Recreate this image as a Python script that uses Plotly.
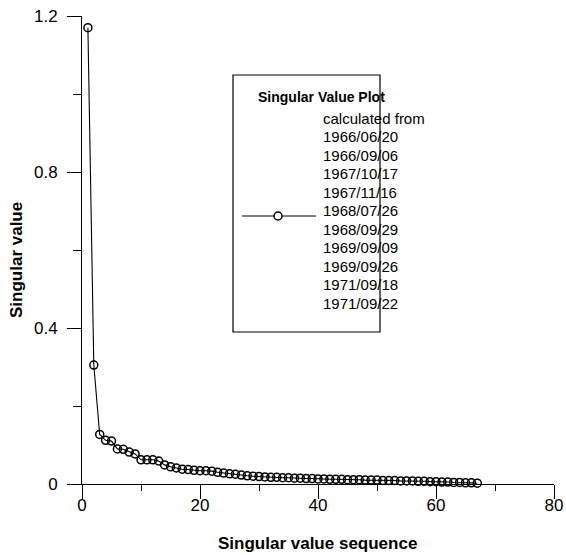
import plotly.graph_objects as go

# ---- data ----
sequence = list(range(1, 68))
singular_values = [
    1.170, 0.305, 0.127, 0.112, 0.110, 0.090, 0.089, 0.082, 0.077, 0.062,
    0.062, 0.062, 0.059, 0.049, 0.044, 0.041, 0.038, 0.037, 0.035, 0.034,
    0.034, 0.033, 0.030, 0.028, 0.026, 0.025, 0.023, 0.021, 0.020, 0.019,
    0.018, 0.017, 0.017, 0.016, 0.016, 0.015, 0.015, 0.014, 0.014, 0.013,
    0.013, 0.012, 0.012, 0.012, 0.011, 0.011, 0.011, 0.010, 0.010, 0.010,
    0.009, 0.009, 0.009, 0.008, 0.008, 0.008, 0.007, 0.007, 0.006, 0.006,
    0.005, 0.005, 0.004, 0.004, 0.003, 0.003, 0.002,
]
x_ticks = [0, 20, 40, 60, 80]
y_ticks = [0, 0.4, 0.8, 1.2]
y_tick_labels = ["0", "0.4", "0.8", "1.2"]
x_title = "Singular value sequence"
y_title = "Singular value"
legend_title = "Singular Value Plot"
legend_lines = [
    "calculated from", "1966/06/20", "1966/09/06", "1967/10/17", "1967/11/16",
    "1968/07/26", "1968/09/29", "1969/09/09", "1969/09/26", "1971/09/18",
    "1971/09/22",
]

FONT = "Liberation Sans, Arial, sans-serif"

# plot area in pixels (window coordinates)
L, R, T, B = 82, 554, 16, 484
W, H = 566, 555


def px(x):
    return (x - L) / (R - L)


def py(y):
    return (B - y) / (B - T)


fig = go.Figure()
fig.add_trace(go.Scatter(
    x=sequence, y=singular_values, mode="lines+markers",
    line=dict(color="black", width=1.1),
    marker=dict(symbol="circle-open", size=8, color="black", line=dict(width=1.5)),
    showlegend=False, cliponaxis=False,
))

shapes = [
    dict(type="rect", xref="paper", yref="paper",
         x0=px(233), x1=px(380), y0=py(332), y1=py(75),
         line=dict(color="black", width=1.2), fillcolor="white", layer="below"),
    dict(type="line", xref="paper", yref="paper",
         x0=px(242), x1=px(316), y0=py(216), y1=py(216),
         line=dict(color="black", width=1)),
    dict(type="circle", xref="paper", yref="paper",
         x0=px(274), x1=px(282), y0=py(220), y1=py(212),
         line=dict(color="black", width=1.5), fillcolor="white"),
]

annotations = [
    dict(text="<b>" + legend_title + "</b>", xref="paper", yref="paper",
         x=px(321), y=py(97), xanchor="center", yanchor="middle",
         showarrow=False, font=dict(family=FONT, size=14, color="black")),
    dict(text="<b>" + x_title + "</b>", xref="paper", yref="paper",
         x=px(317), y=py(543), xanchor="center", yanchor="middle",
         showarrow=False, font=dict(family=FONT, size=17, color="black")),
    dict(text="<b>" + y_title + "</b>", xref="paper", yref="paper",
         x=px(16), y=py(260), xanchor="center", yanchor="middle",
         textangle=-90, showarrow=False,
         font=dict(family=FONT, size=17, color="black")),
]
for i, t in enumerate(legend_lines):
    annotations.append(dict(
        text=t, xref="paper", yref="paper", x=px(321), y=py(118 + i * 18.5),
        xanchor="left", yanchor="middle", showarrow=False,
        font=dict(family=FONT, size=15, color="black")))

fig.update_layout(
    width=W, height=H,
    margin=dict(l=L, r=W - R, t=T, b=H - B),
    paper_bgcolor="white", plot_bgcolor="white",
    font=dict(family=FONT, size=17, color="black"),
    shapes=shapes, annotations=annotations,
    xaxis=dict(
        range=[0, 80], tickvals=x_ticks, ticks="outside", ticklen=14,
        tickwidth=1, tickcolor="black", showline=True, linecolor="black",
        linewidth=1, showgrid=False, zeroline=False, automargin=False,
        ticklabelstandoff=-8,
        minor=dict(dtick=10, tick0=0, ticks="outside", ticklen=6,
                   tickcolor="black", tickwidth=1),
        tickfont=dict(family=FONT, size=17),
    ),
    yaxis=dict(
        range=[0, 1.2], tickvals=y_ticks, ticktext=y_tick_labels,
        ticks="outside", ticklen=14, tickwidth=1, tickcolor="black",
        showline=True, linecolor="black", linewidth=1, showgrid=False,
        zeroline=False, automargin=False, ticklabelstandoff=6,
        minor=dict(dtick=0.2, tick0=0, ticks="outside", ticklen=8,
                   tickcolor="black", tickwidth=1),
        tickfont=dict(family=FONT, size=17),
    ),
)

# remove the browser's default 8px body margin so the figure fills the window
fig.write_html(
    "out.html",
    config={"displayModeBar": False},
    post_script="document.body.style.margin='0';document.body.style.overflow='hidden';",
)
